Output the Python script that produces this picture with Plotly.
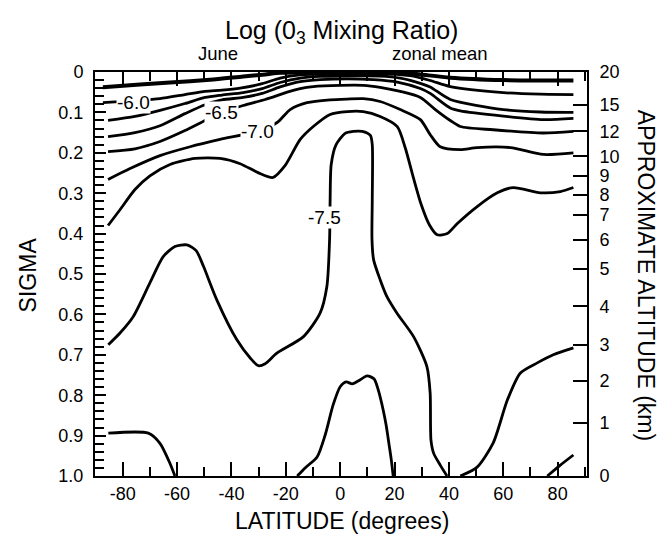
import plotly.graph_objects as go

# ---- axis data ----
x_range = [-90.2, 90.8]
lat_major = [-80, -60, -40, -20, 0, 20, 40, 60, 80]
lat_minor = [-90, -70, -50, -30, -10, 10, 30, 50, 70, 90]
sigma_ticks = [0, 0.1, 0.2, 0.3, 0.4, 0.5, 0.6, 0.7, 0.8, 0.9, 1.0]
sigma_labels = ["0", "0.1", "0.2", "0.3", "0.4", "0.5", "0.6", "0.7", "0.8", "0.9", "1.0"]
alt_labels = ["20", "15", "12", "10", "9", "8", "7", "6", "5", "4", "3", "2", "1", "0"]
alt_sigma = [0.0, 0.082, 0.147, 0.209, 0.257, 0.304, 0.353, 0.415, 0.488, 0.580, 0.675, 0.764, 0.868, 1.0]

# ---- contour lines (latitude, sigma) ----
c_a_lat = [-87.3, -73.6, -62.6, -47.9, -35.7, -27.6, -22.1, -14.7, -7.4, 14.7, 22.1, 29.5, 40.5, 60.0, 73.6, 85.8]
c_a_sig = [0.038, 0.031, 0.026, 0.019, 0.011, 0.006, 0.002, 0.001, 0.0, 0.0, 0.001, 0.006, 0.014, 0.020, 0.021, 0.021]

c_b_lat = [-87.3, -75.5, -66.3, -57.1, -49.7, -43.5, -36.8, -28.7, -22.1, -14.7, -6.3, 7.4, 18.4, 25.8, 33.1, 40.5, 60.0, 73.6, 85.8]
c_b_sig = [0.076, 0.071, 0.066, 0.056, 0.048, 0.045, 0.040, 0.029, 0.015, 0.007, 0.005, 0.004, 0.005, 0.009, 0.021, 0.036, 0.051, 0.055, 0.056]

c_c_lat = [-85.4, -75.5, -66.3, -57.1, -49.7, -43.5, -35.7, -28.7, -22.1, -14.7, -7.4, 0.0, 14.7, 22.1, 29.5, 33.1, 40.5, 60.0, 73.6, 85.8]
c_c_sig = [0.120, 0.110, 0.095, 0.078, 0.063, 0.057, 0.051, 0.041, 0.026, 0.015, 0.011, 0.010, 0.010, 0.015, 0.028, 0.037, 0.068, 0.093, 0.099, 0.100]

c_d_lat = [-85.4, -75.5, -66.3, -57.1, -49.7, -43.5, -35.7, -28.7, -22.1, -14.7, -7.4, 2.6, 12.2, 21.0, 29.5, 33.1, 40.5, 44.2, 60.0, 74.7, 85.8]
c_d_sig = [0.160, 0.150, 0.133, 0.103, 0.081, 0.069, 0.063, 0.053, 0.037, 0.024, 0.019, 0.017, 0.019, 0.025, 0.041, 0.053, 0.089, 0.096, 0.109, 0.118, 0.115]

c_e_lat = [-85.4, -75.5, -66.3, -57.1, -49.7, -43.5, -35.7, -27.6, -19.5, -14.7, -9.9, 0.0, 8.5, 14.7, 22.1, 29.5, 35.0, 40.5, 44.2, 56.3, 74.7, 85.8]
c_e_sig = [0.197, 0.190, 0.172, 0.145, 0.120, 0.100, 0.083, 0.068, 0.050, 0.041, 0.036, 0.033, 0.033, 0.038, 0.048, 0.063, 0.093, 0.120, 0.135, 0.143, 0.151, 0.147]

c_f_lat = [-85.4, -77.3, -66.3, -55.2, -44.2, -30.6, -23.2, -18.4, -12.2, -3.7, 2.6, 8.5, 14.7, 22.1, 29.5, 33.1, 36.8, 44.2, 50.4, 62.6, 74.7, 85.8]
c_f_sig = [0.266, 0.239, 0.207, 0.185, 0.167, 0.147, 0.125, 0.093, 0.076, 0.069, 0.067, 0.066, 0.073, 0.093, 0.118, 0.155, 0.185, 0.192, 0.187, 0.187, 0.204, 0.200]

c_g_lat = [-85.4, -81.0, -75.5, -70.0, -62.6, -53.4, -44.2, -36.8, -30.2, -24.7, -20.3, -14.7, -9.9, -3.7, 2.6, 8.5, 14.7, 21.0, 23.9, 26.9, 29.8, 32.8, 35.7, 39.4, 43.1, 50.4, 57.8, 63.7, 73.6, 81.0, 85.8]
c_g_sig = [0.380, 0.341, 0.291, 0.257, 0.229, 0.214, 0.214, 0.227, 0.249, 0.261, 0.232, 0.167, 0.135, 0.105, 0.098, 0.098, 0.110, 0.135, 0.187, 0.261, 0.328, 0.378, 0.403, 0.400, 0.375, 0.333, 0.299, 0.286, 0.299, 0.296, 0.286]

c_h_lat = [-85.3, -81.0, -76.1, -70.0, -65.1, -60.8, -56.4, -53.0, -50.3, -45.4, -38.0, -33.1, -30.1, -27.6, -23.3, -13.5, -7.4, -4.9, -3.9, -3.7, -3.3, -1.5, 1.8, 4.8, 8.1, 11.1, 11.8, 11.8, 11.7, 12.3, 14.7, 17.2, 20.9, 27.0, 31.9, 33.1, 33.4, 34.4, 36.8, 39.3]
c_h_sig = [0.675, 0.646, 0.605, 0.522, 0.457, 0.432, 0.428, 0.442, 0.481, 0.564, 0.663, 0.708, 0.727, 0.722, 0.696, 0.655, 0.597, 0.531, 0.415, 0.316, 0.229, 0.180, 0.152, 0.147, 0.147, 0.157, 0.180, 0.316, 0.415, 0.465, 0.514, 0.556, 0.597, 0.655, 0.729, 0.795, 0.911, 0.944, 0.973, 1.0]

c_i_lat = [-85.3, -70.6, -66.3, -62.6, -60.8]
c_i_sig = [0.894, 0.894, 0.919, 0.969, 1.0]

c_j_lat = [-15.8, -12.9, -8.5, -5.5, -2.6, 0.0, 2.2, 4.4, 6.6, 9.9, 12.5, 14.0, 15.8, 16.9, 18.0, 18.8, 19.5]
c_j_sig = [1.0, 0.980, 0.953, 0.898, 0.824, 0.779, 0.767, 0.772, 0.765, 0.752, 0.760, 0.787, 0.836, 0.874, 0.923, 0.960, 1.0]

c_k_lat = [44.2, 50.4, 56.3, 61.5, 66.3, 72.5, 78.4, 85.8]
c_k_sig = [1.0, 0.978, 0.918, 0.812, 0.745, 0.720, 0.700, 0.683]

c_l_lat = [76.2, 81.0, 85.8]
c_l_sig = [1.0, 0.973, 0.948]

lines = [
    (c_a_lat, c_a_sig, 4.0), (c_b_lat, c_b_sig, 2.8), (c_c_lat, c_c_sig, 2.8),
    (c_d_lat, c_d_sig, 2.8), (c_e_lat, c_e_sig, 2.8), (c_f_lat, c_f_sig, 2.8),
    (c_g_lat, c_g_sig, 2.8), (c_h_lat, c_h_sig, 2.8), (c_i_lat, c_i_sig, 2.8),
    (c_j_lat, c_j_sig, 2.8), (c_k_lat, c_k_sig, 2.8), (c_l_lat, c_l_sig, 2.8),
]

# contour labels
lab_text = ["-6.0", "-6.5", "-7.0", "-7.5"]
lab_lat = [-76.2, -43.5, -30.6, -5.9]
lab_sig = [0.076, 0.100, 0.147, 0.360]

FONT = "Liberation Sans, Arial, Helvetica, sans-serif"

fig = go.Figure()
for xs, ys, w in lines:
    fig.add_trace(go.Scatter(x=xs, y=ys, mode="lines",
                             line=dict(color="black", width=w, shape="spline", smoothing=0.7),
                             showlegend=False, hoverinfo="skip"))

# invisible trace to activate right axis
fig.add_trace(go.Scatter(x=[0], y=[0.5], yaxis="y2", mode="markers", marker=dict(opacity=0),
                         showlegend=False, hoverinfo="skip"))

for t, la, si in zip(lab_text, lab_lat, lab_sig):
    fig.add_annotation(x=la, y=si, text=t, showarrow=False, bgcolor="white",
                       font=dict(family=FONT, size=19, color="black"), borderpad=0)

fig.update_layout(
    width=659, height=546,
    margin=dict(l=95, r=72, t=72, b=70),
    plot_bgcolor="white", paper_bgcolor="white",
    font=dict(family=FONT, size=18, color="black"),
    xaxis=dict(range=x_range, tickvals=lat_major, ticktext=[str(v) for v in lat_major],
               ticks="inside", ticklen=14, tickwidth=1.5, tickcolor="black",
               minor=dict(tickvals=lat_minor, ticks="inside", ticklen=9, tickwidth=1.5, tickcolor="black"),
               showline=True, linewidth=2, linecolor="black", mirror="ticks",
               showgrid=False, zeroline=False,
               tickfont=dict(family=FONT, size=18)),
    yaxis=dict(range=[1.0, 0.0], tickvals=sigma_ticks, ticktext=sigma_labels,
               ticks="inside", ticklen=11, tickwidth=1.5, tickcolor="black",
               minor=dict(dtick=0.02, tick0=0, ticks="inside", ticklen=9, tickwidth=1.5, tickcolor="black"),
               showline=True, linewidth=2, linecolor="black", mirror=False,
               showgrid=False, zeroline=False, ticklabelstandoff=6,
               tickfont=dict(family=FONT, size=18)),
    yaxis2=dict(range=[1.0, 0.0], overlaying="y", side="right", tickvals=alt_sigma, ticktext=alt_labels,
                ticks="inside", ticklen=14, tickwidth=1.5, tickcolor="black",
                showline=True, linewidth=2, linecolor="black",
                showgrid=False, zeroline=False, ticklabelstandoff=7,
                tickfont=dict(family=FONT, size=18)),
)

# titles as annotations
fig.add_annotation(x=0.502, y=1.098, xref="paper", yref="paper", text="Log (0<sub>3</sub> Mixing Ratio)",
                   showarrow=False, xanchor="center", yanchor="middle", font=dict(family=FONT, size=25))
fig.add_annotation(x=0.25, y=1.047, xref="paper", yref="paper", text="June", showarrow=False,
                   xanchor="center", yanchor="middle", font=dict(family=FONT, size=18.5))
fig.add_annotation(x=0.701, y=1.047, xref="paper", yref="paper", text="zonal mean", showarrow=False,
                   xanchor="center", yanchor="middle", font=dict(family=FONT, size=18.5))
fig.add_annotation(x=0.502, y=-0.1115, xref="paper", yref="paper", text="LATITUDE (degrees)", showarrow=False,
                   xanchor="center", yanchor="middle", font=dict(family=FONT, size=23))
fig.add_annotation(x=-0.137, y=0.498, xref="paper", yref="paper", text="SIGMA", showarrow=False, textangle=-90,
                   xanchor="center", yanchor="middle", font=dict(family=FONT, size=23))
fig.add_annotation(x=1.12, y=0.498, xref="paper", yref="paper", text="APPROXIMATE ALTITUDE (km)", showarrow=False,
                   textangle=90, xanchor="center", yanchor="middle", font=dict(family=FONT, size=23))

fig.write_html("out.html")
